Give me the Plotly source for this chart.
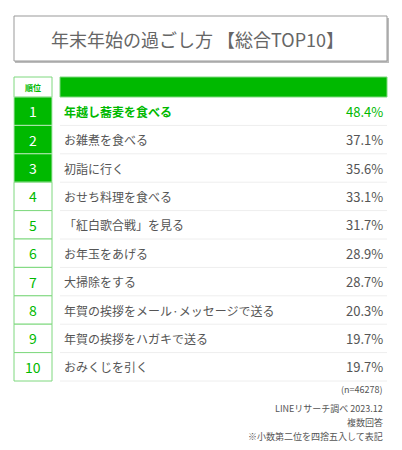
import plotly.graph_objects as go

ranks = [str(i) for i in range(1, 11)]
labels = ["年越し蕎麦を食べる", "お雑煮を食べる", "初詣に行く", "おせち料理を食べる", "「紅白歌合戦」を見る",
          "お年玉をあげる", "大掃除をする", "年賀の挨拶をメール·メッセージで送る", "年賀の挨拶をハガキで送る", "おみくじを引く"]
values = [48.4, 37.1, 35.6, 33.1, 31.7, 28.9, 28.7, 20.3, 19.7, 19.7]
title = "年末年始の過ごし方 【総合TOP10】"
footer = ["LINEリサーチ調べ 2023.12", "複数回答", "※小数第二位を四捨五入して表記"]

G = "#00B900"
TXT = "#555555"
FONT = "Noto Sans CJK JP"
top, rh = 97, 28.4

fig = go.Figure()
shapes, ann = [], []
shapes.append(dict(type="rect", x0=15, y0=18, x1=389, y1=63, fillcolor="#bbbbbb", line=dict(width=0), layer="below"))
shapes.append(dict(type="rect", x0=14, y0=16, x1=387, y1=61, fillcolor="white", line=dict(color="#999999", width=1)))
ann.append(dict(x=197, y=39, text=title, showarrow=False, font=dict(size=18, color="#666666", family=FONT)))
shapes.append(dict(type="rect", x0=14, y0=77, x1=52, y1=97, fillcolor="white", line=dict(color="#7ed87e", width=1)))
ann.append(dict(x=33, y=87, text="<b>順位</b>", showarrow=False, font=dict(size=8, color=G, family=FONT)))
shapes.append(dict(type="rect", x0=60, y0=77, x1=387, y1=97, fillcolor=G, line=dict(color="#7ed87e", width=1)))

for i, (r, lab, v) in enumerate(zip(ranks, labels, values)):
    y0 = top + i * rh
    y1 = y0 + rh
    yc = (y0 + y1) / 2
    filled = i < 3
    shapes.append(dict(type="rect", x0=14, y0=y0, x1=52, y1=y1,
                       fillcolor=G if filled else "white", line=dict(color="#7ed87e" if not filled else "#aee6ae", width=1)))
    ann.append(dict(x=33, y=yc, text=r, showarrow=False,
                    font=dict(size=14, color="white" if filled else G, family=FONT)))
    shapes.append(dict(type="line", x0=60, x1=387, y0=y1, y1=y1, line=dict(color="#eeeeee", width=1)))
    c = G if i == 0 else TXT
    ann.append(dict(x=62, y=yc, text=("<b>%s</b>" % lab) if i == 0 else lab, showarrow=False, xanchor="left",
                    font=dict(size=12, color=c, family=FONT)))
    ann.append(dict(x=385, y=yc, text="%.1f%%" % v, showarrow=False, xanchor="right",
                    font=dict(size=13, color=c, family=FONT)))

ann.append(dict(x=385, y=389, text="(n=46278)", showarrow=False, xanchor="right", font=dict(size=9, color=TXT, family=FONT)))
for j, t in enumerate(footer):
    ann.append(dict(x=385, y=408 + j * 14.3, text=t, showarrow=False, xanchor="right", font=dict(size=9, color=TXT, family=FONT)))

fig.update_layout(width=402, height=450, margin=dict(l=0, r=0, t=0, b=0),
                  paper_bgcolor="white", plot_bgcolor="white", shapes=shapes, annotations=ann,
                  xaxis=dict(range=[8, 410], visible=False, fixedrange=True),
                  yaxis=dict(range=[458, 8], visible=False, fixedrange=True), showlegend=False)
fig.write_html("out.html", config={"displayModeBar": False})
